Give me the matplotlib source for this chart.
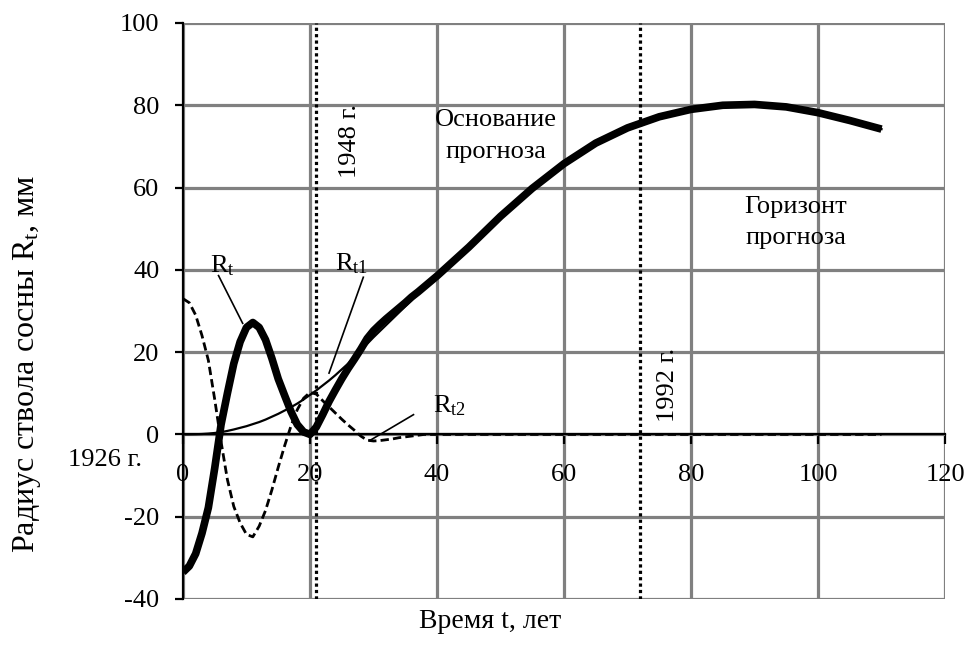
import matplotlib
matplotlib.use("Agg")
import matplotlib.pyplot as plt
import numpy as np

plt.rcParams['font.family'] = ['Liberation Serif', 'DejaVu Serif']
plt.rcParams['mathtext.fontset'] = 'custom'
plt.rcParams['mathtext.rm'] = 'Liberation Serif'
plt.rcParams['mathtext.it'] = 'Liberation Serif:italic'
plt.rcParams['axes.unicode_minus'] = False

# time axis, years since 1926
t = list(range(0, 41)) + [45, 50, 55, 60, 65, 70, 75, 80, 85, 90, 95, 100, 105, 110]

# trend component R_t1
r_t1 = [0, 0.02, 0.05, 0.1, 0.2, 0.35, 0.55, 0.85, 1.2, 1.6,
        2.0, 2.5, 3.0, 3.6, 4.3, 5.0, 5.8, 6.6, 7.5, 8.5,
        9.6, 10.7, 11.9, 13.1, 14.4, 15.8, 17.2, 18.8, 20.4, 22.0,
        23.6, 25.1, 26.6, 28.1, 29.6, 31.1, 32.6, 34.1, 35.6, 37.0,
        38.5, 45.5, 53.0, 59.8, 65.8, 70.8, 74.5, 77.2, 79.0, 80.0,
        80.2, 79.6, 78.2, 76.3, 74.2]

# oscillating component R_t2
r_t2 = [33, 32, 29, 24, 18, 8.5, -1.8, -11, -17.5, -21.5,
        -24.3, -24.9, -22.3, -18.5, -13.5, -8, -2.8, 2, 6, 8.8,
        10.2, 9.8, 8.2, 6.7, 5.2, 3.7, 2.3, 1.0, -0.4, -1.4,
        -1.6, -1.5, -1.3, -1.1, -0.8, -0.6, -0.4, -0.2, 0, 0,
        0, 0, 0, 0, 0, 0, 0, 0, 0, 0,
        0, 0, 0, 0, 0]

# stem radius R_t
r_t = [-33.5, -32, -29, -24, -17.8, -8.2, 2.4, 10.0, 17.2, 22.5,
       26.0, 27.2, 26.0, 23.0, 18.5, 13.5, 9.5, 5.6, 2.4, 0.6,
       0.0, 1.8, 4.8, 8.0, 10.8, 13.5, 16.0, 18.3, 20.7, 23.3,
       25.2, 26.7, 28.1, 29.4, 30.7, 32.0, 33.4, 34.6, 35.9, 37.2,
       38.5, 45.5, 53.0, 59.8, 65.8, 70.8, 74.5, 77.2, 79.0, 80.0,
       80.2, 79.6, 78.2, 76.3, 74.2]

x_ticks = [0, 20, 40, 60, 80, 100, 120]
y_ticks = [-40, -20, 0, 20, 40, 60, 80, 100]
t_1948 = 21
t_1992 = 72

fig = plt.figure(figsize=(9.65, 6.47), dpi=100)
ax = fig.add_axes([0.1896, 0.0742, 0.7897, 0.8903])

ax.set_xlim(0, 120)
ax.set_ylim(-40, 100)
ax.set_xticks(x_ticks)
ax.set_yticks(y_ticks)
ax.grid(True, color='#808080', lw=2.3)
ax.set_axisbelow(True)

ax.spines['top'].set_visible(False)
ax.spines['right'].set_visible(False)
ax.spines['bottom'].set_position(('data', 0))
ax.spines['bottom'].set_linewidth(1.6)
ax.spines['left'].set_linewidth(1.6)
ax.tick_params(axis='x', direction='out', length=7, width=1.6, pad=14, labelsize=19)
ax.tick_params(axis='y', direction='out', length=6, width=1.6, pad=11, labelsize=19)

# marker lines for 1948 and 1992
ax.axvline(t_1948, color='black', lw=2.3, ls=(0, (1, 1)), zorder=3)
ax.axvline(t_1992, color='black', lw=2.3, ls=(0, (1, 1)), zorder=3)

ax.plot(t, r_t2, color='black', lw=2.0, ls=(0, (3, 1.5)), zorder=4)
ax.plot(t, r_t1, color='black', lw=1.6, zorder=4)
ax.plot(t, r_t, color='black', lw=5.5, solid_joinstyle='round',
        solid_capstyle='butt', zorder=5)

# curve labels with leader lines
ax.text(6.2, 41, r'R$_{\rm t}$', fontsize=19, ha='center', va='center')
ax.plot([5.6, 9.4], [38.6, 27.0], color='black', lw=1.2)
ax.text(26.6, 41.5, r'R$_{\rm t1}$', fontsize=19, ha='center', va='center')
ax.plot([28.4, 23.0], [38.2, 14.9], color='black', lw=1.2)
ax.text(42.0, 7.0, r'R$_{\rm t2}$', fontsize=19, ha='center', va='center')
ax.plot([36.3, 29.4], [4.8, -1.5], color='black', lw=1.2)

ax.text(26.3, 71.4, '1948 г.', fontsize=19, rotation=90, ha='center', va='center')
ax.text(76.4, 12.0, '1992 г.', fontsize=19, rotation=90, ha='center', va='center')
ax.text(49.3, 72.5, 'Основание\nпрогноза', fontsize=19, ha='center', va='center',
        multialignment='center', linespacing=1.55)
ax.text(96.5, 51.5, 'Горизонт\nпрогноза', fontsize=19, ha='center', va='center',
        multialignment='center', linespacing=1.55)
ax.text(-12.2, -6.3, '1926 г.', fontsize=19, ha='center', va='center', clip_on=False)

fig.text(490 / 965, 1 - 622 / 647, 'Время t, лет', fontsize=20, ha='center', va='center')
fig.text(27 / 965, 1 - 364 / 647, r'Радиус ствола сосны R$_{\rm t}$, мм', fontsize=23,
         rotation=90, ha='center', va='center')

fig.savefig('out.png', dpi=100)
